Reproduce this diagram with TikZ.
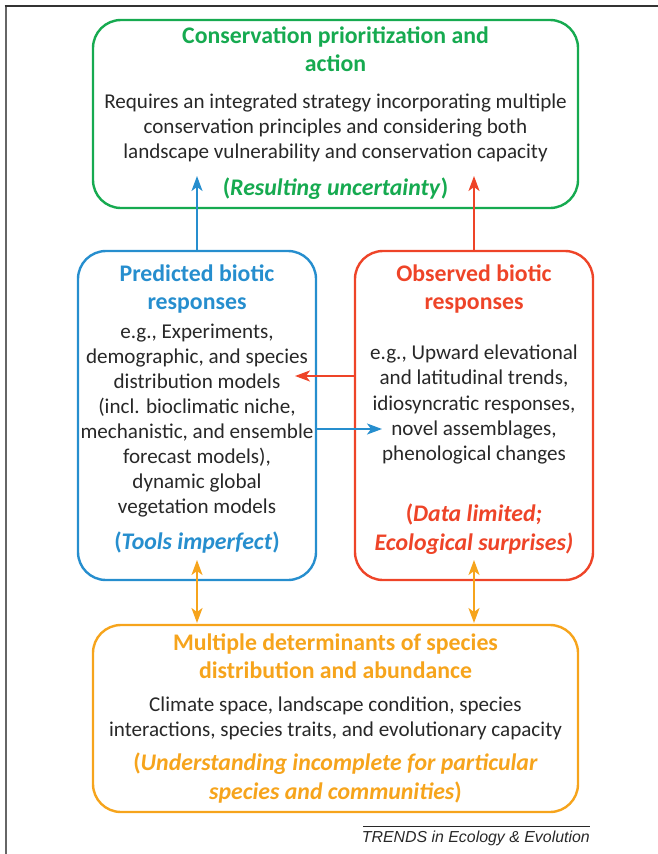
\documentclass[tikz,border=0pt]{standalone}
\usepackage{fontspec}
\setmainfont{Carlito}
\newfontfamily\footfont{Liberation Sans}
\usetikzlibrary{arrows.meta}
\definecolor{cgreen}{RGB}{22,170,80}
\definecolor{cblue}{RGB}{38,142,206}
\definecolor{cred}{RGB}{238,68,40}
\definecolor{corange}{RGB}{246,164,28}
\definecolor{ctext}{RGB}{40,40,40}
\tikzset{
  boxstyle/.style={draw, line width=2.4pt, rounded corners=28pt, inner sep=0pt},
  titletext/.style={font=\fontsize{23.8}{28}\selectfont\bfseries, align=center, inner sep=0pt},
  bodytext/.style={font=\fontsize{21.1}{25.3}\selectfont, text=ctext, align=center, inner sep=0pt},
  notetext/.style={font=\fontsize{23.8}{29}\selectfont\bfseries, align=center, inner sep=0pt},
  conn/.style={line width=2pt, -{Stealth[length=15pt,width=11pt,inset=4pt]}},
  bothconn/.style={line width=2pt, {Stealth[length=15pt,width=11pt,inset=4pt]}-{Stealth[length=15pt,width=11pt,inset=4pt]}}
}
\begin{document}
\begin{tikzpicture}[x=1pt,y=1pt]
\useasboundingbox (0,0) rectangle (658,-854);
% frame
\draw[line width=2pt, color=black!60] (5.5,-5) -- (5.5,-854);
\draw[line width=1.5pt, color=black!80] (4.5,-6) -- (658,-6);

% boxes
\node[boxstyle, draw=cgreen, minimum width=485pt, minimum height=188pt] (cons) at (335.5,-114) {};
\node[boxstyle, draw=cblue, minimum width=238pt, minimum height=329pt] (pred) at (197,-415.5) {};
\node[boxstyle, draw=cred, minimum width=238pt, minimum height=329pt] (obs) at (474,-415.5) {};
\node[boxstyle, draw=corange, minimum width=485pt, minimum height=187pt] (mult) at (335.5,-718.5) {};

% green texts
\node[titletext, text=cgreen] (consT) at (335.5,-49.5) {Conservation prioritization and\\action};
\node[bodytext] (consB) at (335.5,-128) {Requires an integrated strategy incorporating multiple\\conservation principles and considering both\\landscape vulnerability and conservation capacity};
\node[notetext, text=cgreen] (consN) at (335.5,-188.5) {(\textit{Resulting uncertainty})};

% blue texts
\node[titletext, text=cblue] (predT) at (197,-288.5) {Predicted biotic\\responses};
\node[bodytext, font=\fontsize{21.1}{24.9}\selectfont] (predB) at (197,-420.5) {e.g., Experiments,\\demographic, and species\\distribution models\\(incl. bioclimatic niche,\\mechanistic, and ensemble\\forecast models),\\dynamic global\\vegetation models};
\node[notetext, text=cblue] (predN) at (197,-542.5) {(\textit{Tools imperfect})};

% red texts
\node[titletext, text=cred] (obsT) at (474,-288.5) {Observed biotic\\responses};
\node[bodytext] (obsB) at (474,-404.5) {e.g., Upward elevational\\and latitudinal trends,\\idiosyncratic responses,\\novel assemblages,\\phenological changes};
\node[notetext, text=cred] (obsN) at (474,-529) {(\textit{Data limited;}\\\textit{Ecological surprises)}};

% orange texts
\node[titletext, text=corange] (multT) at (335.5,-656.5) {Multiple determinants of species\\distribution and abundance};
\node[bodytext] (multB) at (335.5,-718.5) {Climate space, landscape condition, species\\interactions, species traits, and evolutionary capacity};
\node[notetext, text=corange] (multN) at (335.5,-778) {(\textit{Understanding incomplete for particular}\\\textit{species and communities})};

% footer
\coordinate (footL) at (363,-826);
\coordinate (footR) at (590,-826);
\draw[line width=0.8pt, color=ctext] (footL) -- (footR);
\node[anchor=north east, inner sep=0pt, font=\footfont\itshape\fontsize{15.9}{18}\selectfont, text=ctext] (foot) at (590,-830.5) {TRENDS in Ecology \& Evolution};

% connectors
\coordinate (blueTip) at (197,-176);
\coordinate (redTip) at (474,-176);
\draw[conn, draw=cblue, fill=cblue] (pred.north) -- (blueTip);
\draw[conn, draw=cred, fill=cred] (obs.north) -- (redTip);

\coordinate (redL) at (355,-376);
\coordinate (redEnd) at (295,-376);
\draw[conn, draw=cred, fill=cred] (redL) -- (redEnd);
\coordinate (blueR) at (316,-429);
\coordinate (blueEnd) at (382,-429);
\draw[conn, draw=cblue, fill=cblue] (blueR) -- (blueEnd);

\coordinate (oA1) at (197,-560);
\coordinate (oA2) at (197,-623);
\coordinate (oB1) at (474,-560);
\coordinate (oB2) at (474,-623);
\draw[bothconn, draw=corange, fill=corange] (oA1) -- (oA2);
\draw[bothconn, draw=corange, fill=corange] (oB1) -- (oB2);
\end{tikzpicture}
\end{document}
